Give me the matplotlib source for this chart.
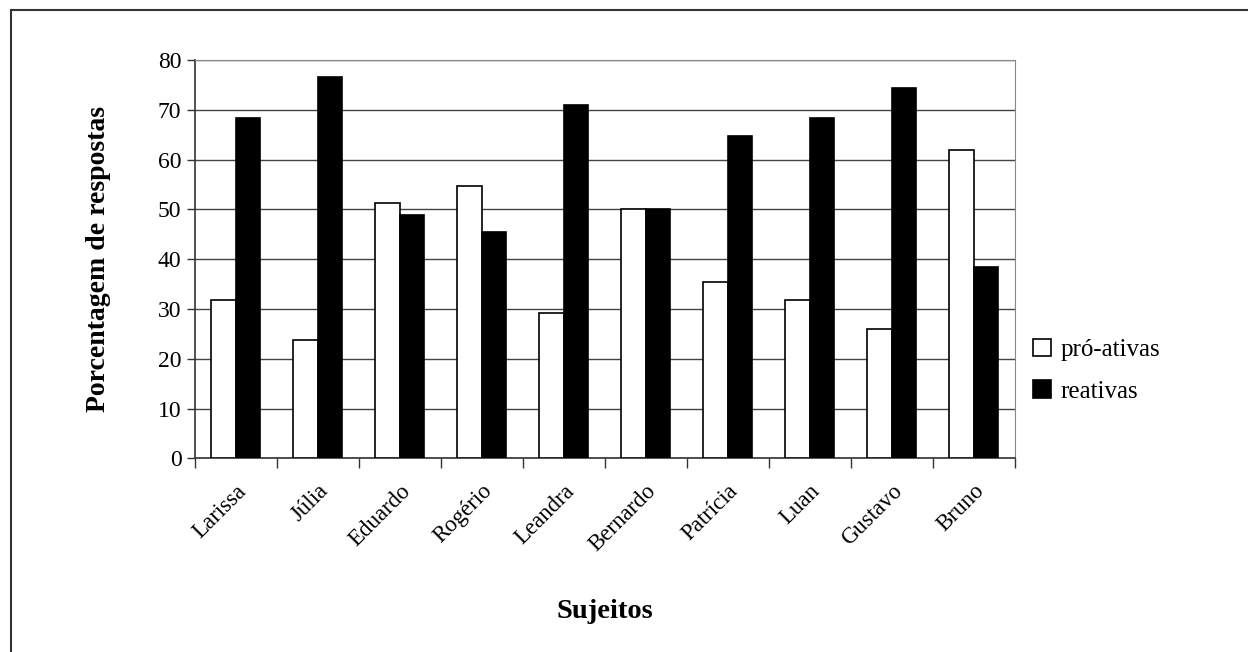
import matplotlib.pyplot as plt
import numpy as np
from matplotlib.patches import Rectangle

plt.rcParams['font.family'] = ['Liberation Serif', 'DejaVu Serif']

sujeitos = ["Larissa", "Júlia", "Eduardo", "Rogério", "Leandra",
            "Bernardo", "Patrícia", "Luan", "Gustavo", "Bruno"]
pro_ativas = [31.8, 23.8, 51.2, 54.6, 29.2, 50.0, 35.4, 31.8, 25.9, 61.9]
reativas = [68.4, 76.5, 48.8, 45.4, 71.0, 50.0, 64.8, 68.4, 74.3, 38.5]

fig = plt.figure(figsize=(12.48, 6.52), dpi=100)
ax = fig.add_axes([0.156, 0.297, 0.657, 0.611])

# outer frame (only left and top edges visible in the reference)
fig.patches.append(Rectangle((0.009, -0.1), 1.2, 1.085, transform=fig.transFigure,
                             fill=False, edgecolor="#333333", linewidth=1.5))

x = np.arange(len(sujeitos))
w = 0.3
ax.bar(x - w / 2, pro_ativas, w, color="white", edgecolor="black",
       linewidth=1.2, label="pró-ativas", zorder=3)
ax.bar(x + w / 2, reativas, w, color="black", edgecolor="black",
       linewidth=1.2, label="reativas", zorder=3)

ax.set_xlim(-0.5, len(sujeitos) - 0.5)
ax.set_ylim(0, 80)
ax.set_yticks(range(0, 81, 10))
ax.yaxis.grid(True, color="#444444", linewidth=1.0, zorder=0)

ax.set_xticks(np.arange(-0.5, len(sujeitos)), minor=False)
ax.set_xticklabels([])
ax.set_xticks(x, minor=True)
ax.set_xticklabels(sujeitos, minor=True, rotation=45, ha="right",
                   rotation_mode="anchor", fontsize=16.5)
ax.tick_params(axis="x", which="minor", length=0, pad=16)
ax.tick_params(axis="x", which="major", length=7, width=1, color="#333333")
ax.tick_params(axis="y", labelsize=17, length=6, width=1, color="#333333")

for s in ["top", "right"]:
    ax.spines[s].set_color("#888888")
for s in ["left", "bottom"]:
    ax.spines[s].set_color("#333333")
    ax.spines[s].set_linewidth(1.2)

ax.set_ylabel("Porcentagem de respostas", fontsize=20, fontweight="bold",
              labelpad=34)
ax.set_xlabel("Sujeitos", fontsize=20.5, fontweight="bold", labelpad=31)

ax.legend(loc="center left", bbox_to_anchor=(0.995, 0.22), frameon=False,
          fontsize=18, handlelength=0.7, handleheight=0.7,
          handletextpad=0.4, labelspacing=0.75)

fig.savefig("out.png", dpi=100)
